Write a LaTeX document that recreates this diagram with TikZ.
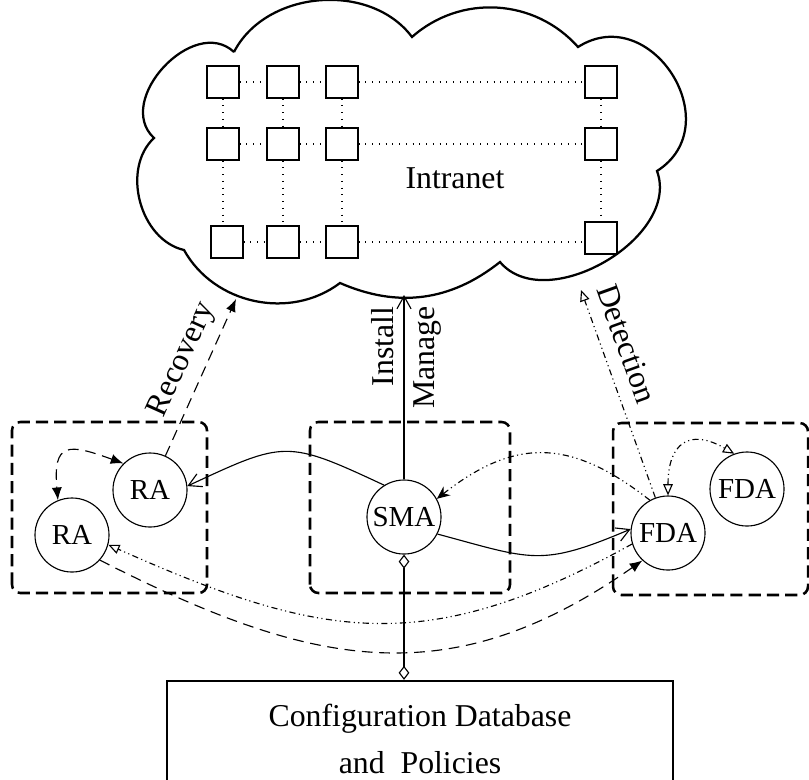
\documentclass[tikz,border=0pt]{standalone}
\usepackage{fontspec}
\setmainfont{Liberation Serif}
\usetikzlibrary{arrows.meta}

\begin{document}
\begin{tikzpicture}[x=0.0125cm, y=0.0125cm,
  every node/.style={align=center, font=\fontsize{11.3}{13.6}\selectfont},
  agent/.style={draw, circle, minimum size=0.925cm, inner sep=0pt, font=\fontsize{10.3}{12}\selectfont},
  router/.style={draw, minimum size=0.4cm, inner sep=0pt},
  group/.style={line width=0.9pt, dash pattern=on 4.3pt off 2.2pt, rounded corners=3pt},
  ddd/.style={dash pattern=on 2.2pt off 1.2pt on 0.4pt off 1.2pt on 0.4pt off 1.2pt},
  dsh/.style={dash pattern=on 3.8pt off 2.4pt},
  barb/.style={-{Straight Barb[length=4.5pt,width=5pt]}},
  fill tip/.style={-{Latex[length=4.5pt,width=3.6pt]}},
  open tip/.style={-{Triangle[open,length=4pt,width=3.4pt]}}]
\useasboundingbox (0,0) rectangle (809,779);

% Intranet cloud
\draw[line width=0.8pt] (234,727) to[bend left=58] (412,742) to[bend left=45] (578,732)
  to[bend left=90, looseness=1.5] (657,608) to[bend left=80] (500,517)
  to[bend left=31] (340,496) to[bend left=49] (184,529)
  to[bend left=62] (154,641) to[bend left=90, looseness=1.2] (234,727);
\node (intranet) at (455,601) {Intranet};

% Routers
\node[router] (s11) at (223,697) {};
\node[router] (s12) at (283,697) {};
\node[router] (s13) at (342,697) {};
\node[router] (s14) at (601,697) {};
\node[router] (s21) at (223,635) {};
\node[router] (s22) at (283,635) {};
\node[router] (s23) at (342,635) {};
\node[router] (s24) at (601,635) {};
\node[router] (s31) at (227,537) {};
\node[router] (s32) at (283,537) {};
\node[router] (s33) at (342,537) {};
\node[router] (s34) at (601,541) {};

% Links
\draw[dotted] (s11) -- (s12);
\draw[dotted] (s12) -- (s13);
\draw[dotted] (s13) -- (s14);
\draw[dotted] (s21) -- (s22);
\draw[dotted] (s22) -- (s23);
\draw[dotted] (s23) -- (s24);
\draw[dotted] (s31) -- (s32);
\draw[dotted] (s32) -- (s33);
\draw[dotted] (s33) -- (s33 -| s34.west);
\draw[dotted] (s11) -- (s21);
\draw[dotted] (s21) -- (s21 |- s31.north);
\draw[dotted] (s12) -- (s22);
\draw[dotted] (s22) -- (s32);
\draw[dotted] (s13) -- (s23);
\draw[dotted] (s23) -- (s33);
\draw[dotted] (s14) -- (s24);
\draw[dotted] (s24) -- (s34);

% Agent groups
\draw[group] (12,186) rectangle (207,357);
\draw[group] (310,186) rectangle (510,357);
\draw[group] (613,184) rectangle (808,356);

% Agents
\node[agent] (ra1) at (150,289) {RA};
\node[agent] (ra2) at (72,244) {RA};
\node[agent] (sma) at (404,262) {SMA};
\node[agent] (fda1) at (668,246) {FDA};
\node[agent] (fda2) at (747,290) {FDA};

\node[draw, line width=0.8pt, minimum width=6.325cm, minimum height=1.45cm] (config) at (420,40)
  {Configuration Database\\[2.8pt]and~ Policies};

\coordinate (rec) at (236,480);
\coordinate (inst) at (404,484);
\coordinate (det) at (581,489);

% Arrows
\draw[dsh, fill tip] (ra1) -- (rec) node[pos=0.55, sloped, above] {Recovery};
\draw[barb] (sma) -- (inst)
  node[pos=0.72, rotate=90, anchor=south] {Install}
  node[pos=0.66, rotate=90, anchor=north] {Manage};
\draw[ddd, open tip] (fda1) -- (det) node[pos=0.7, sloped, above=1.5pt] {Detection};

\draw[barb] (sma.122) to[out=155, in=25, looseness=1.4] (ra1.6);
\draw[barb] (sma.-27) to[out=-15, in=203, looseness=1.3] (fda1.174);
\draw[ddd, -{Stealth[length=4.6pt,width=4pt]}] (fda1.119) to[out=142, in=38, looseness=1.2] (sma.29);
\draw[ddd, {Triangle[open,length=4pt,width=3.4pt]}-{Triangle[open,length=4pt,width=3.4pt]}]
  (fda1.90) to[out=90, in=150, looseness=1.7] (fda2.110);
\draw[dsh, {Latex[length=4.5pt,width=3.6pt]}-{Latex[length=4.5pt,width=3.6pt]}]
  (ra1.135) to[out=160, in=95, looseness=2] (ra2.112);
\draw[ddd, open tip] (fda1.197) to[out=209, in=-24, looseness=1.15] (ra2.-15);
\draw[dsh, fill tip] (ra2.-42) to[out=-27, in=215, looseness=1.12] (fda1.227);
\draw[{Diamond[open,length=5pt,width=3.8pt]}-{Diamond[open,length=5pt,width=3.8pt]}]
  (sma) -- (sma |- config.north);
\end{tikzpicture}
\end{document}
